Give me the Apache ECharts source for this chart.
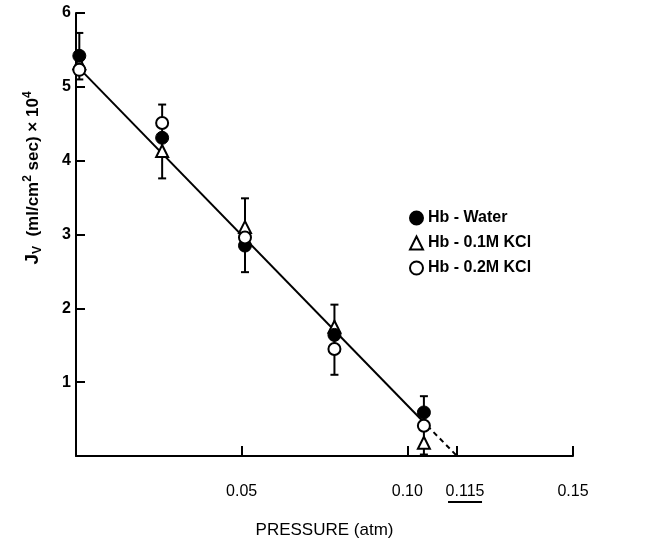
<!DOCTYPE html>
<html>
<head>
<meta charset="utf-8">
<script src="https://cdn.jsdelivr.net/npm/echarts@6/dist/echarts.min.js"></script>
<style>
html,body{margin:0;padding:0;background:#fff;}
#main{width:662px;height:544px;}
</style>
</head>
<body>
<div id="main"></div>
<script>
// ---- data ----
const pressure = [0.001, 0.026, 0.051, 0.078, 0.105];
const hbWater  = [5.42, 4.31, 2.85, 1.64, 0.59];
const hbKcl01  = [5.32, 4.13, 3.10, 1.75, 0.18];
const hbKcl02  = [5.23, 4.51, 2.96, 1.45, 0.41];
const errLow   = [5.10, 3.76, 2.49, 1.10, 0.02];
const errHigh  = [5.73, 4.76, 3.49, 2.05, 0.81];
const fitSolidX = [0.001, 0.106];
const fitSolidY = [5.25, 0.41];
const fitDashX  = [0.106, 0.115];
const fitDashY  = [0.41, 0];
const xTicks = [0.05, 0.10, 0.115, 0.15];
const xTickLabels = ['0.05', '0.10', '0.115', '0.15'];
const yTicks = [1, 2, 3, 4, 5, 6];
const seriesNames = ['Hb - Water', 'Hb - 0.1M KCl', 'Hb - 0.2M KCl'];

const FONT = 'Liberation Sans';
const zip = (xs, ys) => xs.map((x, i) => [x, ys[i]]);

const chart = echarts.init(document.getElementById('main'), null, {renderer: 'canvas'});

const option = {
  backgroundColor: '#fff',
  animation: false,
  grid: {left: 76, right: 89, top: 13, bottom: 87, containLabel: false},
  legend: {
    orient: 'vertical',
    left: 404, top: 205,
    itemWidth: 13, itemHeight: 13, itemGap: 9,
    textStyle: {fontFamily: FONT, fontSize: 16, color: '#000', fontWeight: 'bold'},
    data: seriesNames
  },
  xAxis: {
    type: 'value', min: 0, max: 0.15,
    axisLine: {lineStyle: {color: '#000', width: 2}},
    splitLine: {show: false},
    axisTick: {inside: true, length: 10, lineStyle: {color: '#000', width: 2}, customValues: xTicks},
    axisLabel: {
      customValues: xTicks, margin: 28, color: '#000',
      fontFamily: FONT, fontSize: 16,
      formatter: v => {
        const i = xTicks.findIndex(t => Math.abs(t - v) < 1e-9);
        if (i < 0) return '';
        return xTickLabels[i] === '0.115' ? '{u|0.115}' : xTickLabels[i];
      },
      rich: {u: {fontFamily: FONT, fontSize: 16, color: '#000', padding: [0, 0, 0, 16]}}
    },
    name: 'PRESSURE (atm)', nameLocation: 'middle', nameGap: 66,
    nameTextStyle: {fontFamily: FONT, fontSize: 17, color: '#000'}
  },
  yAxis: {
    type: 'value', min: 0, max: 6, interval: 1,
    axisLine: {show: true, lineStyle: {color: '#000', width: 2}},
    splitLine: {show: false},
    axisTick: {inside: true, length: 9, lineStyle: {color: '#000', width: 2}, customValues: yTicks},
    axisLabel: {
      customValues: yTicks, margin: 5, color: '#000',
      fontFamily: FONT, fontSize: 16, fontWeight: 'bold'
    }
  },
  graphic: [{
    type: 'text', id: 'ytitle',
    x: 33, y: 178, rotation: Math.PI / 2,
    style: {
      text: '{j|J}{v|V}{t|  (ml/cm}{s|2}{t| sec) × 10}{s|4}',
      align: 'center', verticalAlign: 'middle',
      rich: {
        j: {fontFamily: FONT, fontSize: 19, fontWeight: 'bold', fill: '#000', verticalAlign: 'middle'},
        v: {fontFamily: FONT, fontSize: 12, fontWeight: 'bold', fill: '#000', verticalAlign: 'bottom', padding: [8, 0, 0, 0]},
        t: {fontFamily: FONT, fontSize: 17, fontWeight: 'bold', fill: '#000', verticalAlign: 'middle'},
        s: {fontFamily: FONT, fontSize: 12, fontWeight: 'bold', fill: '#000', verticalAlign: 'top', padding: [0, 0, 10, 0]}
      }
    }
  }],
  series: [
    {
      type: 'line', name: 'fit', data: zip(fitSolidX, fitSolidY), symbol: 'none',
      lineStyle: {color: '#000', width: 2}, z: 1, silent: true
    },
    {
      type: 'line', name: 'fitDash', data: zip(fitDashX, fitDashY), symbol: 'none',
      lineStyle: {color: '#000', width: 2, type: [5, 4]}, z: 1, silent: true
    },
    {
      type: 'custom', name: 'err', z: 2, silent: true,
      data: pressure.map((p, i) => [p, errLow[i], errHigh[i]]),
      renderItem: (params, api) => {
        const lo = api.coord([api.value(0), api.value(1)]);
        const hi = api.coord([api.value(0), api.value(2)]);
        const w = 4;
        const st = {stroke: '#000', lineWidth: 2};
        return {type: 'group', children: [
          {type: 'line', shape: {x1: lo[0], y1: lo[1], x2: hi[0], y2: hi[1]}, style: st},
          {type: 'line', shape: {x1: lo[0] - w, y1: lo[1], x2: lo[0] + w, y2: lo[1]}, style: st},
          {type: 'line', shape: {x1: hi[0] - w, y1: hi[1], x2: hi[0] + w, y2: hi[1]}, style: st}
        ]};
      }
    },
    {
      type: 'scatter', name: seriesNames[1], data: zip(pressure, hbKcl01),
      symbol: 'triangle', symbolSize: 12, z: 3,
      itemStyle: {color: '#fff', borderColor: '#000', borderWidth: 2, opacity: 1}
    },
    {
      type: 'scatter', name: seriesNames[0], data: zip(pressure, hbWater),
      symbol: 'circle', symbolSize: 13, z: 4,
      itemStyle: {color: '#000', borderColor: '#000', borderWidth: 1, opacity: 1}
    },
    {
      type: 'scatter', name: seriesNames[2], data: zip(pressure, hbKcl02),
      symbol: 'circle', symbolSize: 12, z: 5,
      itemStyle: {color: '#fff', borderColor: '#000', borderWidth: 2, opacity: 1}
    }
  ]
};
chart.setOption(option);

// underline under the 0.115 tick label, placed via the axis scale
const u = chart.convertToPixel({xAxisIndex: 0, yAxisIndex: 0}, [0.115, 0]);
chart.setOption({graphic: [{
  type: 'line', id: 'underline',
  shape: {x1: u[0] - 9, y1: u[1] + 46, x2: u[0] + 25, y2: u[1] + 46},
  style: {stroke: '#000', lineWidth: 2}
}]});
</script>
</body>
</html>
